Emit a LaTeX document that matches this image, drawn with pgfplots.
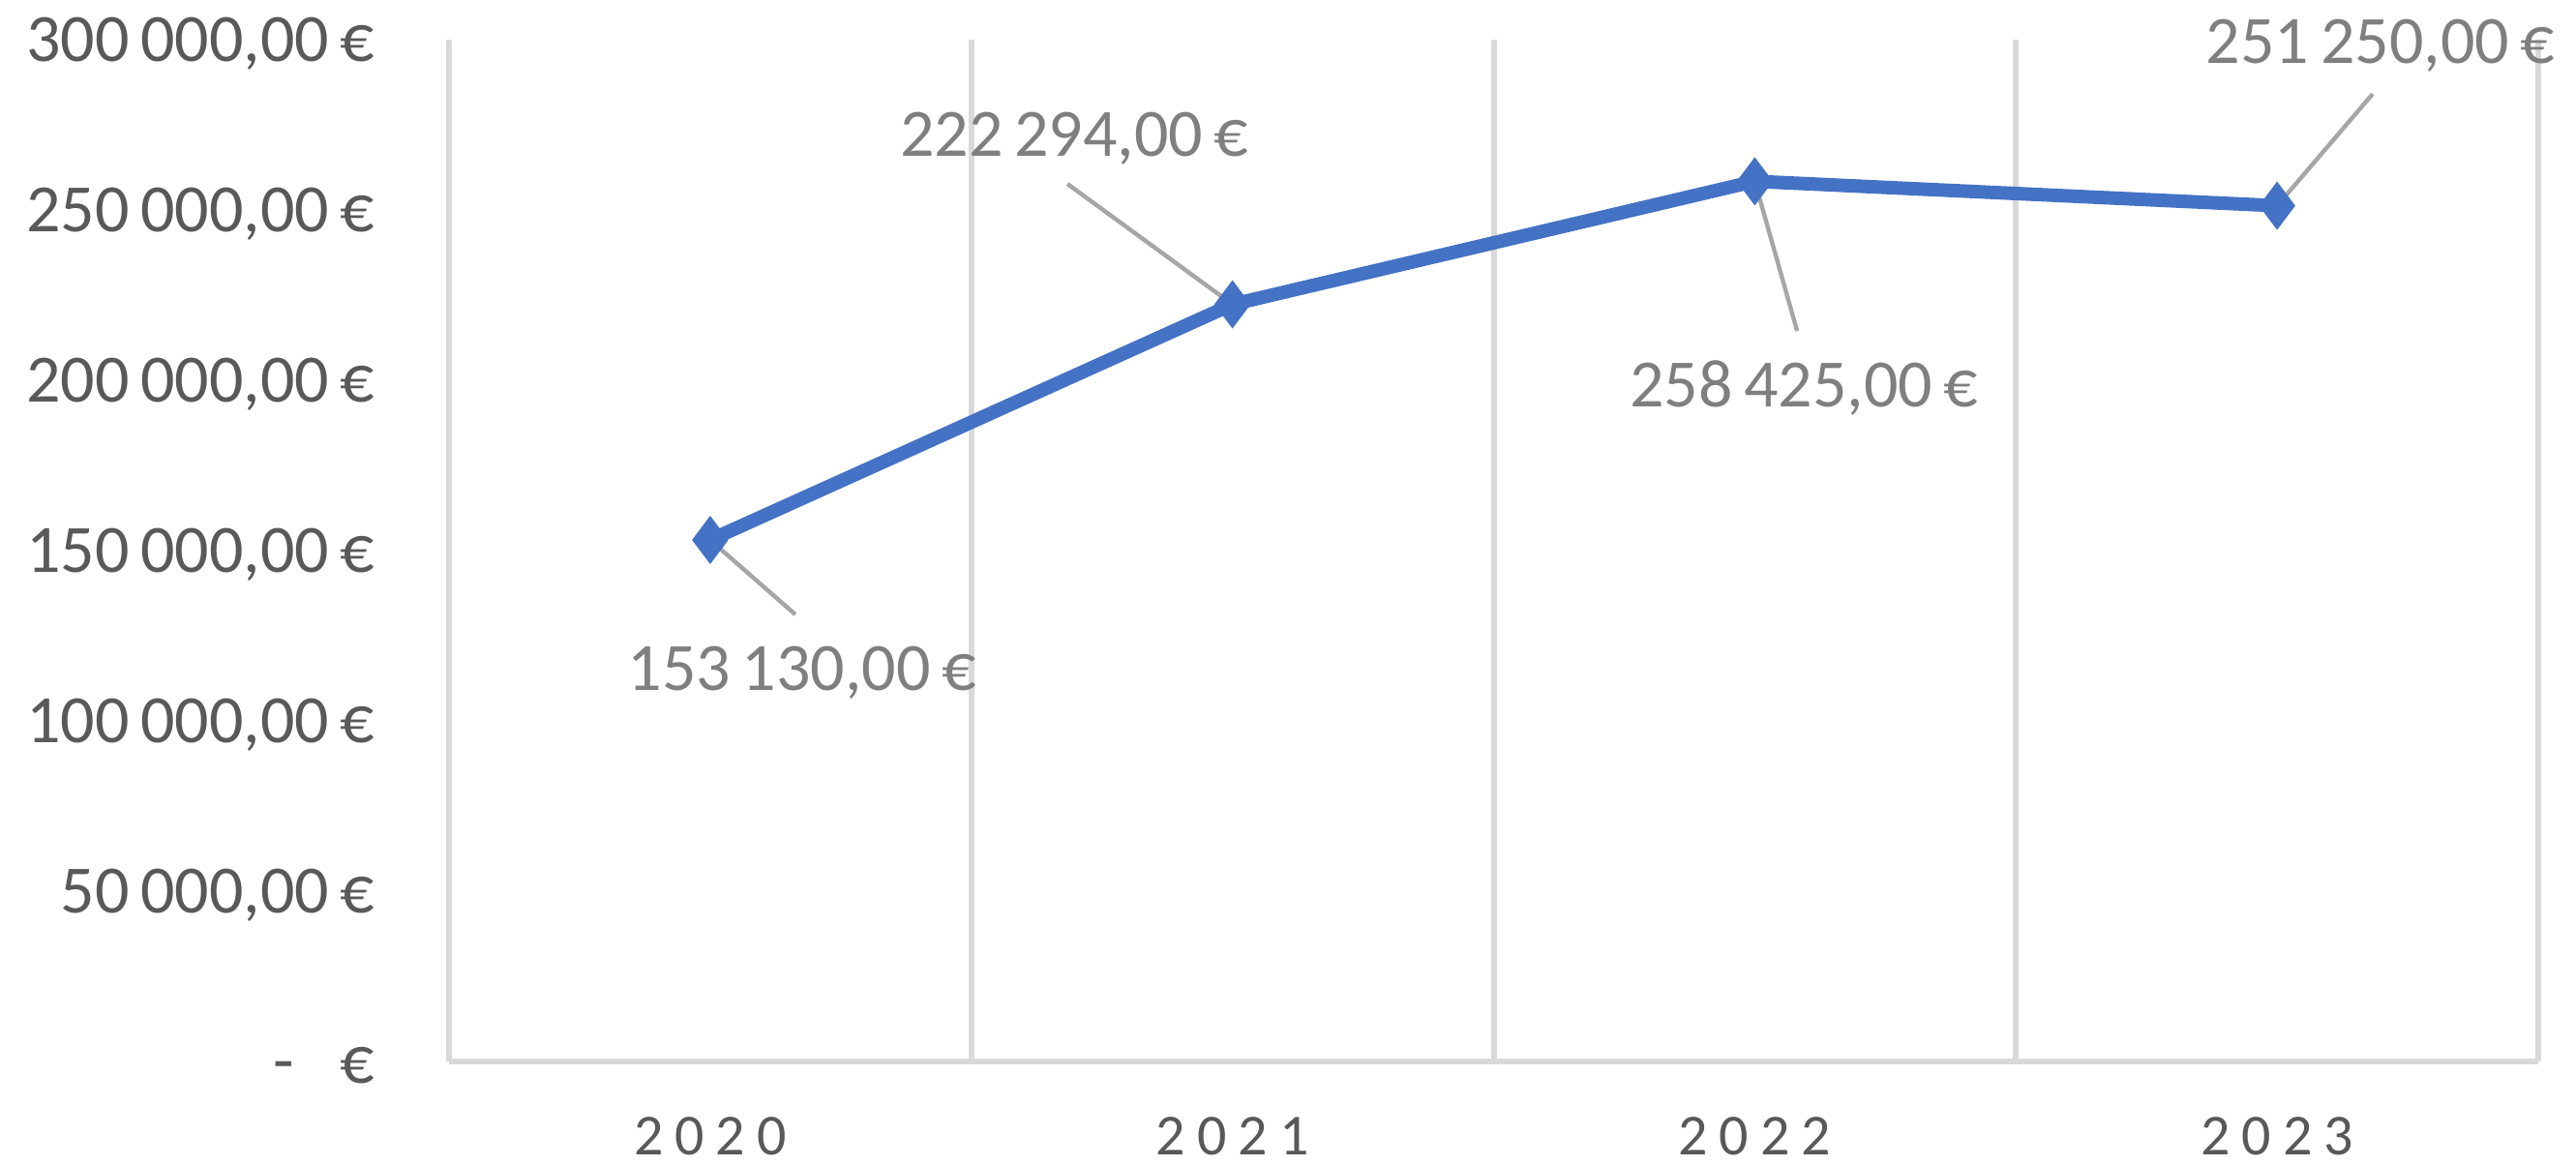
\documentclass[border=0pt]{standalone}
\usepackage{fontspec}
\setmainfont{Carlito}
\usepackage{pgfplots}
\pgfplotsset{compat=1.18}
\definecolor{gridgray}{HTML}{D9D9D9}
\definecolor{tickgray}{HTML}{595959}
\definecolor{labgray}{HTML}{7F7F7F}
\definecolor{leadgray}{HTML}{A6A6A6}
\definecolor{lineblue}{HTML}{4472C4}
\newcommand{\yr}[4]{#1\kern3pt#2\kern3pt#3\kern3pt#4}
\begin{document}
\begin{tikzpicture}
\path[use as bounding box] (0,0) rectangle (665.5pt,301pt);
\begin{axis}[
  at={(116pt,26.75pt)}, anchor=south west,
  scale only axis, width=539.75pt, height=264pt,
  xmin=-0.5, xmax=3.5, ymin=0, ymax=300000,
  clip=false,
  axis x line*=bottom, axis y line*=box,
  axis line style={draw=gridgray, line width=1.5pt, -},
  xtick={0,1,2,3},
  xticklabels={\yr2020, \yr2021, \yr2022, \yr2023},
  minor xtick={0.5,1.5,2.5},
  xminorgrids,
  minor x grid style={draw=gridgray, line width=1.5pt},
  major tick length=0pt, minor tick length=0pt,
  ytick={0,50000,100000,150000,200000,250000,300000},
  yticklabels={{-\hspace{12pt}€}, {50\,000,00\,€}, {100\,000,00\,€}, {150\,000,00\,€}, {200\,000,00\,€}, {250\,000,00\,€}, {300\,000,00\,€}},
  scaled y ticks=false,
  yticklabel style={anchor=base east, inner sep=0pt, xshift=-19pt, yshift=-5.5pt, font=\fontsize{17.5}{21}\selectfont, text=tickgray},
  xticklabel style={anchor=base, inner sep=0pt, yshift=-24pt, font=\fontsize{15}{18}\selectfont, text=tickgray},
]
\addplot[color=lineblue, line width=3.5pt, mark=diamond*, mark size=5pt,
  mark options={fill=lineblue, draw=lineblue, line width=1.5pt, solid}]
  coordinates {(0,153130) (1,222294) (2,258425) (3,251250)};
% leader lines
\draw[leadgray, line width=1.1pt] (axis cs:0,153130) -- (axis cs:0.163,131250);
\draw[leadgray, line width=1.1pt] (axis cs:1,222294) -- (axis cs:0.684,257670);
\draw[leadgray, line width=1.1pt] (axis cs:2,258425) -- (axis cs:2.081,214489);
\draw[leadgray, line width=1.1pt] (axis cs:3,251250) -- (axis cs:3.183,284091);
% data labels
\begin{scope}[every node/.style={anchor=base, inner sep=0pt, text=labgray, font=\fontsize{17.5}{21}\selectfont}]
\node at (axis cs:0.176,109091) {153\,130,00\,€};
\node at (axis cs:0.697,265909) {222\,294,00\,€};
\node at (axis cs:2.094,192330) {258\,425,00\,€};
\node at (axis cs:3.198,293182) {251\,250,00\,€};
\end{scope}
\end{axis}
\end{tikzpicture}
\end{document}
